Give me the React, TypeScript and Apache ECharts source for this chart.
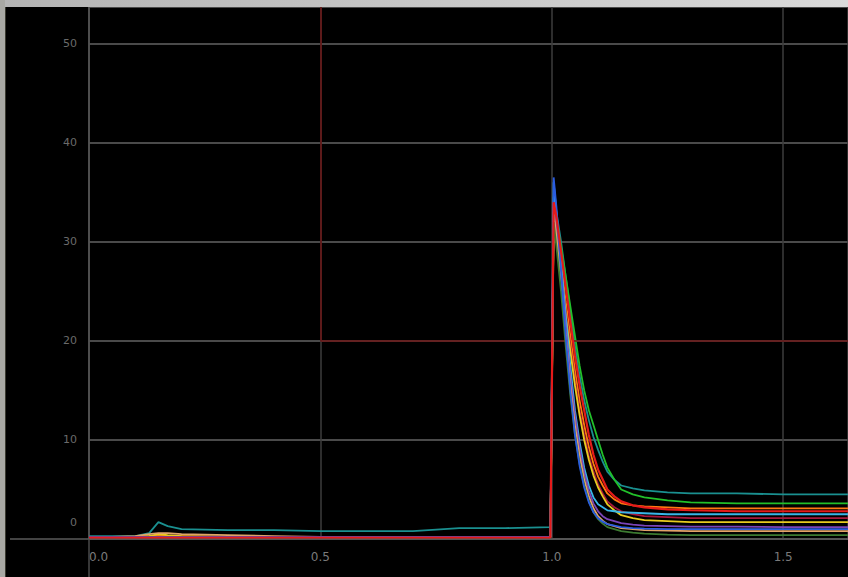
import React, { useEffect, useRef } from "react";
import * as echarts from "echarts";

const xs = [0, 0.05, 0.1, 0.13, 0.15, 0.17, 0.2, 0.3, 0.4, 0.5, 0.6, 0.7, 0.8, 0.9, 0.997,
  1.004, 1.01, 1.02, 1.03, 1.04, 1.05, 1.06, 1.07, 1.08, 1.09, 1.1, 1.11, 1.12, 1.135, 1.15, 1.175, 1.2, 1.25, 1.3, 1.4, 1.5, 1.64];

const tealVals = [0.3, 0.3, 0.3, 0.6, 1.7, 1.3, 1.0, 0.9, 0.9, 0.8, 0.8, 0.8, 1.1, 1.1, 1.2,
  34.5, 33, 30, 26.5, 23, 19.5, 16.5, 14, 12, 10.3, 9, 7.8, 6.8, 6.0, 5.4, 5.1, 4.9, 4.7, 4.6, 4.6, 4.5, 4.5];
const greenVals = [0.2, 0.2, 0.2, 0.3, 0.3, 0.3, 0.2, 0.2, 0.2, 0.2, 0.2, 0.2, 0.2, 0.2, 0.2,
  33, 32, 29.5, 26.5, 23.5, 20.5, 17.5, 15, 13, 11.5, 10, 8.5, 7.2, 6.0, 5.0, 4.5, 4.2, 3.9, 3.7, 3.6, 3.6, 3.6];
const orangeVals = [0.2, 0.2, 0.2, 0.3, 0.4, 0.3, 0.3, 0.2, 0.2, 0.2, 0.2, 0.2, 0.2, 0.2, 0.2,
  33.5, 31.5, 28, 24, 20.5, 17, 14, 11.5, 9.3, 7.6, 6.3, 5.4, 4.6, 4.0, 3.6, 3.4, 3.3, 3.2, 3.1, 3.1, 3.1, 3.1];
const maroonVals = [0.2, 0.2, 0.2, 0.2, 0.2, 0.2, 0.2, 0.2, 0.2, 0.2, 0.2, 0.2, 0.2, 0.2, 0.2,
  33, 31, 27, 23, 19.5, 16, 13, 10.5, 8.4, 6.8, 5.5, 4.6, 3.8, 3.2, 2.8, 2.5, 2.3, 2.2, 2.1, 2.1, 2.1, 2.1];
const yellowVals = [0.2, 0.2, 0.2, 0.3, 0.5, 0.4, 0.3, 0.2, 0.2, 0.2, 0.2, 0.2, 0.2, 0.2, 0.2,
  32, 30.5, 26.5, 22.5, 19, 15.5, 12.5, 10, 8, 6.4, 5.2, 4.3, 3.5, 2.9, 2.4, 2.1, 1.9, 1.8, 1.7, 1.7, 1.7, 1.7];
const lightBlueVals = [0.2, 0.2, 0.2, 0.2, 0.2, 0.2, 0.2, 0.2, 0.2, 0.2, 0.2, 0.2, 0.2, 0.2, 0.2,
  36, 33, 28, 22.5, 17.5, 13, 9.8, 7.2, 5.4, 4.2, 3.5, 3.2, 2.9, 2.8, 2.7, 2.65, 2.6, 2.5, 2.5, 2.5, 2.5, 2.5];
const purpleVals = [0.2, 0.2, 0.2, 0.2, 0.2, 0.2, 0.2, 0.2, 0.2, 0.2, 0.2, 0.2, 0.2, 0.2, 0.2,
  34, 31.5, 27, 21.5, 16.5, 12.5, 9.2, 6.7, 4.9, 3.6, 2.8, 2.3, 2.0, 1.8, 1.6, 1.45, 1.35, 1.3, 1.25, 1.25, 1.2, 1.2];
const beigeVals = [0.2, 0.2, 0.3, 0.5, 0.6, 0.6, 0.5, 0.4, 0.3, 0.2, 0.2, 0.2, 0.2, 0.2, 0.2,
  33, 30.5, 26, 20.5, 15.5, 11.5, 8.4, 6, 4.3, 3.1, 2.3, 1.85, 1.5, 1.3, 1.1, 1.0, 0.9, 0.85, 0.8, 0.8, 0.8, 0.8];
const darkGreenVals = [0.2, 0.2, 0.2, 0.2, 0.2, 0.2, 0.2, 0.2, 0.2, 0.2, 0.2, 0.2, 0.2, 0.2, 0.2,
  32, 29.5, 25, 19.5, 14.5, 10.5, 7.6, 5.4, 3.8, 2.7, 2.0, 1.55, 1.2, 1.0, 0.8, 0.65, 0.55, 0.45, 0.4, 0.4, 0.4, 0.4];
const blueVals = [0.2, 0.2, 0.2, 0.2, 0.2, 0.2, 0.2, 0.2, 0.2, 0.2, 0.2, 0.2, 0.2, 0.2, 0.2,
  36.5, 33.5, 27, 20.5, 15, 10.5, 7.4, 5.2, 3.7, 2.7, 2.1, 1.75, 1.5, 1.35, 1.2, 1.1, 1.05, 1.0, 1.0, 1.0, 1.0, 1.0];
const redVals = [0.15, 0.15, 0.15, 0.15, 0.15, 0.15, 0.15, 0.15, 0.15, 0.15, 0.15, 0.15, 0.15, 0.15, 0.15,
  34, 32.5, 29, 25.5, 22, 18.5, 15.5, 13, 10.5, 8.5, 7, 6.0, 5, 4.3, 3.8, 3.4, 3.2, 3.0, 2.9, 2.8, 2.8, 2.8];

const seriesNames = ["teal", "green", "orange", "maroon", "yellow", "lightblue", "purple", "beige", "darkgreen", "blue", "red"];
const seriesValues = [tealVals, greenVals, orangeVals, maroonVals, yellowVals, lightBlueVals, purpleVals, beigeVals, darkGreenVals, blueVals, redVals];
const seriesColors = ["#1a9090", "#22c02a", "#ff7a10", "#a8183c", "#e8cc20", "#38b6e8", "#7a44b8", "#e0a468", "#3c7a30", "#2a5ce0", "#e41a1a"];

const xTicks = [0, 0.5, 1.0, 1.5];
const yTicks = [0, 10, 20, 30, 40, 50];
const markerX = 0.5;
const markerY = 20;

export default function App() {
  const ref = useRef<HTMLDivElement>(null);
  useEffect(() => {
    document.body.style.margin = "0";
    const chart = echarts.init(ref.current!, null, { renderer: "svg" });
    const xMax = 1.64;
    const yMax = 53.7;
    const series: any[] = seriesNames.map((name, i) => ({
      name,
      type: "line",
      data: xs.map((x, j) => [x, seriesValues[i][j]]),
      showSymbol: false,
      lineStyle: { color: seriesColors[i], width: i === seriesNames.length - 1 ? 2.2 : 1.8 },
      itemStyle: { color: seriesColors[i] },
      z: 3 + i,
    }));
    series.push({
      type: "line",
      data: [],
      markLine: {
        silent: true,
        symbol: "none",
        lineStyle: { color: "#6e1414", width: 1.5, type: "solid" },
        label: { show: false },
        data: [
          [{ coord: [markerX, markerY] }, { coord: [markerX, yMax] }],
          [{ coord: [markerX, markerY] }, { coord: [xMax, markerY] }],
        ],
      },
      z: 2,
    });
    chart.setOption({
      animation: false,
      backgroundColor: "#000000",
      grid: { left: 89, right: 0, top: 7, bottom: 38 },
      xAxis: {
        type: "value",
        min: 0,
        max: xMax,
        interval: 0.5,
        axisLine: { show: true, lineStyle: { color: "#5a5a5a", width: 1.5 } },
        axisTick: { show: false },
        splitLine: { show: true, lineStyle: { color: "#3c3c3c", width: 1.5 } },
        axisLabel: {
          color: "#7a7a7a",
          fontSize: 12,
          fontFamily: "DejaVu Sans",
          margin: 12,
          showMaxLabel: false,
          alignMinLabel: "left",
          formatter: (v: number) => (xTicks.indexOf(v) >= 0 ? v.toFixed(1) : ""),
        },
      },
      yAxis: {
        type: "value",
        min: 0,
        max: yMax,
        interval: 10,
        axisLine: { show: true, lineStyle: { color: "#5a5a5a", width: 1.5 } },
        axisTick: { show: false },
        splitLine: { show: true, lineStyle: { color: "#4a4a4a", width: 2 } },
        axisLabel: {
          color: "#6a6a6a",
          fontSize: 11,
          fontFamily: "DejaVu Sans",
          margin: 12,
          showMaxLabel: false,
          formatter: (v: number) => {
            if (yTicks.indexOf(v) < 0) return "";
            return v === 0 ? "{z|0}" : String(v);
          },
          rich: { z: { color: "#6a6a6a", fontSize: 11, fontFamily: "DejaVu Sans", padding: [0, 0, 34, 0] } },
        },
      },
      graphic: [
        { type: "line", shape: { x1: 10, y1: 539, x2: 89, y2: 539 }, style: { stroke: "#5a5a5a", lineWidth: 1.5 }, z: 1 },
        { type: "line", shape: { x1: 89, y1: 539, x2: 89, y2: 577 }, style: { stroke: "#4a4a4a", lineWidth: 1.5 }, z: 1 },
        {
          type: "rect",
          shape: { x: 0, y: 0, width: 848, height: 7 },
          style: {
            fill: new echarts.graphic.LinearGradient(0, 0, 1, 0, [
              { offset: 0, color: "#b4b4b4" },
              { offset: 1, color: "#dadada" },
            ]),
          },
          z: 100,
        },
        { type: "rect", shape: { x: 0, y: 0, width: 5, height: 577 }, style: { fill: "#a8a8a4" }, z: 100 },
        { type: "rect", shape: { x: 5, y: 7, width: 1, height: 570 }, style: { fill: "#3a3a30" }, z: 100 },
      ],
      series,
    });
    return () => chart.dispose();
  }, []);
  return <div ref={ref} style={{ width: 848, height: 577 }} />;
}
